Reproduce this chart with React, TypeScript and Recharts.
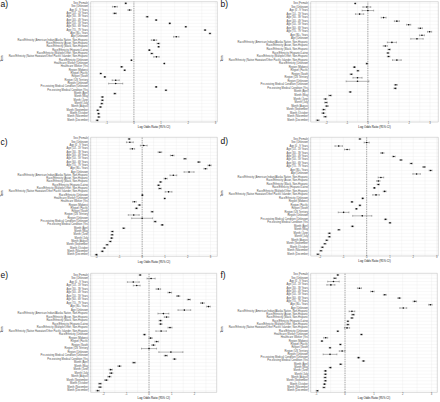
import {
  CartesianGrid,
  ErrorBar,
  ReferenceArea,
  ReferenceLine,
  Scatter,
  ScatterChart,
  XAxis,
  YAxis,
} from 'recharts';

const FONT = '"Liberation Sans", Arial, sans-serif';
const GRID = '#ebebeb';
const BORDER = '#b3b3b3';
const AXIS_TEXT = '#4d4d4d';

const TERMS = [
  'Sex (Female)',
  'Sex (Unknown)',
  'Age (0 - 9 Years)',
  'Age (10 - 19 Years)',
  'Age (30 - 39 Years)',
  'Age (40 - 49 Years)',
  'Age (50 - 59 Years)',
  'Age (60 - 69 Years)',
  'Age (70 - 79 Years)',
  'Age (80+ Years)',
  'Age (Unknown)',
  'Race/Ethnicity (American Indian/Alaska Native, Non-Hispanic)',
  'Race/Ethnicity (Asian, Non-Hispanic)',
  'Race/Ethnicity (Black, Non-Hispanic)',
  'Race/Ethnicity (Hispanic/Latino)',
  'Race/Ethnicity (Multiple/Other, Non-Hispanic)',
  'Race/Ethnicity (Native Hawaiian/Other Pacific Islander, Non-Hispanic)',
  'Race/Ethnicity (Unknown)',
  'Healthcare Worker (Unknown)',
  'Healthcare Worker (Yes)',
  'Region (Midwest)',
  'Region (Pacific)',
  'Region (South)',
  'Region (US Territory)',
  'Region (Unknown)',
  'Pre-existing Medical Condition (Unknown)',
  'Pre-existing Medical Condition (Yes)',
  'Month (April)',
  'Month (May)',
  'Month (June)',
  'Month (July)',
  'Month (August)',
  'Month (September)',
  'Month (October)',
  'Month (November)',
  'Month (December)',
];

// panels b, d and e have no healthcare worker terms
const TERMS_NO_HCW = TERMS.filter((t) => !t.startsWith('Healthcare'));

// log odds estimates, one per term
const EST_A = [-0.3, -0.7, -0.16, -0.7, 0.49, 0.82, 1.32, 1.91, 2.62, 2.8, 1.56, 0.74, 0.9, 0.91, 0.57, 0.66, 0.83, -0.09, 1.12, -0.45, -0.34, -1.22, -1.07, -0.67, -0.67, 0.82, 1.18, -0.7, -1.16, -1.16, -1.18, -1.23, -1.33, -1.3, -1.29, -1.35];
const EST_B = [-0.61, -0.05, 0.0, -0.4, 0.76, 1.4, 1.97, 2.53, 2.98, 2.61, 2.37, 1.16, 0.84, 1.03, 0.97, 1.0, 1.4, -0.05, -0.65, -0.48, -0.8, -0.5, -0.5, 1.35, 1.32, -0.85, -1.82, -2.05, -2.02, -1.98, -2.13, -2.15, -2.06, -2.42];
const EST_C = [-0.57, -0.54, 0.07, -0.43, 0.78, 1.32, 1.88, 2.49, 2.96, 2.78, 2.06, 1.37, 1.03, 0.81, 0.72, 0.78, 1.16, 0.01, 0.99, -0.34, -0.12, -0.25, 0.44, -0.37, 0.0, 0.57, 0.88, -0.81, -1.31, -1.32, -1.34, -1.4, -1.54, -1.66, -1.75, -2.01];
const EST_D = [-0.29, 0.0, -1.2, -0.84, 0.67, 1.16, 1.47, 1.91, 2.46, 2.74, 2.14, 0.61, 0.5, 0.5, 0.33, 0.77, 0.4, -0.17, -0.63, -0.29, -0.44, -0.99, -0.19, 0.81, 1.0, -0.61, -1.19, -1.6, -1.6, -1.71, -1.79, -1.9, -1.96, -2.09];
const EST_E = [-0.39, 0.09, -0.69, -0.54, 0.41, 0.91, 1.28, 1.75, 2.34, 2.61, 1.55, 0.63, 0.77, 0.5, 0.51, 0.92, 0.53, -0.2, 0.07, 0.34, 0.19, 0.0, 0.96, 0.74, 1.12, -0.66, -1.3, -1.68, -1.66, -1.74, -1.88, -2.15, -2.15, -2.25];
const EST_F = [-0.25, -0.35, -0.4, -0.49, 0.5, 0.95, 1.38, 1.88, 2.42, 2.96, 2.02, 0.24, 0.28, 0.24, 0.1, 0.1, 0.07, -0.25, 0.57, -0.67, -0.8, -0.16, -0.52, -0.1, -0.52, 0.47, 0.64, -0.15, -0.51, -0.68, -0.68, -0.69, -0.68, -0.71, -0.73, -0.96];

// half width of the 95% CI, one per term
const CI_A = [0.03, 0.09, 0.06, 0.06, 0.04, 0.03, 0.03, 0.03, 0.03, 0.03, 0.1, 0.1, 0.05, 0.03, 0.03, 0.04, 0.1, 0.02, 0.02, 0.04, 0.03, 0.03, 0.03, 0.13, 0.26, 0.03, 0.03, 0.04, 0.04, 0.04, 0.04, 0.04, 0.04, 0.04, 0.04, 0.04];
const CI_B = [0.03, 0.19, 0.28, 0.2, 0.12, 0.12, 0.1, 0.1, 0.1, 0.12, 0.3, 0.22, 0.1, 0.06, 0.05, 0.06, 0.21, 0.04, 0.05, 0.05, 0.06, 0.22, 0.55, 0.07, 0.06, 0.05, 0.07, 0.07, 0.07, 0.07, 0.07, 0.07, 0.07, 0.07];
const CI_C = [0.04, 0.15, 0.15, 0.1, 0.08, 0.08, 0.06, 0.06, 0.07, 0.07, 0.22, 0.15, 0.07, 0.05, 0.05, 0.06, 0.15, 0.03, 0.03, 0.08, 0.05, 0.05, 0.05, 0.24, 0.46, 0.05, 0.05, 0.05, 0.05, 0.05, 0.05, 0.05, 0.05, 0.05, 0.05, 0.05];
const CI_D = [0.04, 0.11, 0.16, 0.11, 0.07, 0.06, 0.05, 0.05, 0.06, 0.06, 0.16, 0.12, 0.07, 0.05, 0.04, 0.06, 0.14, 0.04, 0.04, 0.04, 0.04, 0.23, 0.41, 0.05, 0.04, 0.05, 0.05, 0.05, 0.05, 0.05, 0.05, 0.05, 0.05, 0.05];
const CI_E = [0.04, 0.18, 0.26, 0.15, 0.1, 0.08, 0.07, 0.07, 0.08, 0.08, 0.28, 0.24, 0.1, 0.06, 0.06, 0.09, 0.23, 0.05, 0.07, 0.08, 0.07, 0.33, 0.53, 0.07, 0.06, 0.07, 0.07, 0.07, 0.07, 0.07, 0.07, 0.07, 0.07, 0.07];
const CI_F = [0.03, 0.05, 0.2, 0.14, 0.07, 0.06, 0.05, 0.05, 0.06, 0.06, 0.12, 0.1, 0.05, 0.04, 0.03, 0.04, 0.09, 0.03, 0.03, 0.07, 0.03, 0.03, 0.03, 0.1, 0.24, 0.04, 0.04, 0.04, 0.04, 0.04, 0.04, 0.04, 0.04, 0.04, 0.04, 0.04];

const TICKS_A = [-1, 0, 1, 2, 3];
const TICKS_B = [-2, -1, 0, 1, 2, 3];
const TICKS_C = [-2, -1, 0, 1, 2, 3];
const TICKS_D = [-2, -1, 0, 1, 2, 3];
const TICKS_E = [-2, -1, 0, 1, 2];
const TICKS_F = [-1, 0, 1, 2, 3];

interface PanelDef {
  tag: string;
  terms: string[];
  est: number[];
  ci: number[];
  ticks: number[];
  domain: [number, number];
  x: number;
  y: number;
  top: number;
  bottom: number;
  right: number;
  tagTop: number;
}

const PANELS: PanelDef[] = [
  { tag: 'a)', terms: TERMS, est: EST_A, ci: CI_A, ticks: TICKS_A, domain: [-1.59, 3.07], x: 0, y: 0, top: 1.7, bottom: 12, right: 2.7, tagTop: 0 },
  { tag: 'b)', terms: TERMS_NO_HCW, est: EST_B, ci: CI_B, ticks: TICKS_B, domain: [-2.76, 3.4], x: 220, y: 0, top: 1.7, bottom: 12, right: 1.7, tagTop: 0 },
  { tag: 'c)', terms: TERMS, est: EST_C, ci: CI_C, ticks: TICKS_C, domain: [-2.26, 3.3], x: 0, y: 134, top: 3.3, bottom: 11.7, right: 2.7, tagTop: 4 },
  { tag: 'd)', terms: TERMS_NO_HCW, est: EST_D, ci: CI_D, ticks: TICKS_D, domain: [-2.4, 3.07], x: 220, y: 134, top: 3.3, bottom: 12, right: 1.7, tagTop: 3 },
  { tag: 'e)', terms: TERMS_NO_HCW, est: EST_E, ci: CI_E, ticks: TICKS_E, domain: [-2.56, 2.97], x: 0, y: 268, top: 5.3, bottom: 9.6, right: 3.3, tagTop: 3 },
  { tag: 'f)', terms: TERMS, est: EST_F, ci: CI_F, ticks: TICKS_F, domain: [-1.19, 3.2], x: 220, y: 268, top: 5.3, bottom: 9.6, right: 2.7, tagTop: 3 },
];

const W = 220;
const H = 134;
const Y_AXIS_W = 90.7;

function gridTicks(domain: [number, number]) {
  const out: number[] = [];
  for (let v = Math.ceil(domain[0] * 2) / 2; v <= domain[1]; v += 0.5) out.push(v);
  return out;
}

const Dot = (p: any) => <circle cx={p.cx} cy={p.cy} r={0.8} fill="#111" />;

// plain <text> ticks so the long term labels are never wrapped
const TermTick = (p: any) => (
  <text
    x={p.x}
    y={p.y}
    textAnchor="end"
    dominantBaseline="central"
    fontFamily={FONT}
    fontSize={2.6}
    fill={AXIS_TEXT}
  >
    {p.payload.value}
  </text>
);

function makeValueTick(major: Set<number>) {
  return (p: any) =>
    major.has(p.payload.value) ? (
      <text
        x={p.x}
        y={p.y}
        textAnchor="middle"
        dominantBaseline="hanging"
        fontFamily={FONT}
        fontSize={2.6}
        fill={AXIS_TEXT}
      >
        {p.payload.value}
      </text>
    ) : (
      <g />
    );
}

function Panel({ def }: { def: PanelDef }) {
  const data = def.terms.map((term, i) => ({ term, est: def.est[i], ci: def.ci[i] }));
  const ValueTick = makeValueTick(new Set(def.ticks));
  return (
    <div style={{ position: 'absolute', left: def.x, top: def.y, width: W, height: H, fontFamily: FONT }}>
      <ScatterChart
        width={W}
        height={H}
        margin={{ top: def.top, right: def.right, bottom: def.bottom - 5, left: 0 }}
      >
        <CartesianGrid stroke={GRID} strokeWidth={0.35} />
        <XAxis
          type="number"
          dataKey="est"
          domain={def.domain}
          ticks={gridTicks(def.domain)}
          allowDataOverflow
          interval={0}
          height={5}
          tickSize={0.6}
          tickMargin={0}
          axisLine={false}
          tickLine={false}
          tick={ValueTick}
          label={{ value: 'Log Odds Ratio (95% CI)', position: 'bottom', offset: -0.8, fontSize: 2.9, fill: '#111', fontFamily: FONT }}
        />
        <YAxis
          type="category"
          dataKey="term"
          reversed
          interval={0}
          width={Y_AXIS_W}
          tickSize={1}
          tickMargin={0.8}
          axisLine={false}
          tickLine={{ stroke: BORDER, strokeWidth: 0.3 }}
          tick={TermTick}
          label={{ value: 'Term', angle: -90, position: 'insideLeft', offset: 1.5, fontSize: 2.9, fill: '#111', fontFamily: FONT }}
        />
        <ReferenceArea x1={def.domain[0]} x2={def.domain[1]} fill="none" stroke={BORDER} strokeWidth={0.4} ifOverflow="visible" />
        <ReferenceLine x={0} stroke="#444" strokeWidth={0.45} strokeDasharray="1.4 0.9" />
        <Scatter data={data} shape={Dot} isAnimationActive={false}>
          <ErrorBar dataKey="ci" direction="x" width={0.9} stroke="#333" strokeWidth={0.35} />
        </Scatter>
      </ScatterChart>
      <span
        style={{
          position: 'absolute',
          left: 0.5,
          top: def.tagTop,
          fontFamily: FONT,
          fontSize: 8.5,
          lineHeight: 1,
          color: '#111',
        }}
      >
        {def.tag}
      </span>
    </div>
  );
}

export default function App() {
  return (
    <div
      style={{
        position: 'absolute',
        left: 0,
        top: 0,
        width: 440,
        height: 402,
        background: '#fff',
        overflow: 'hidden',
      }}
    >
      {PANELS.map((p) => (
        <Panel key={p.tag} def={p} />
      ))}
    </div>
  );
}
